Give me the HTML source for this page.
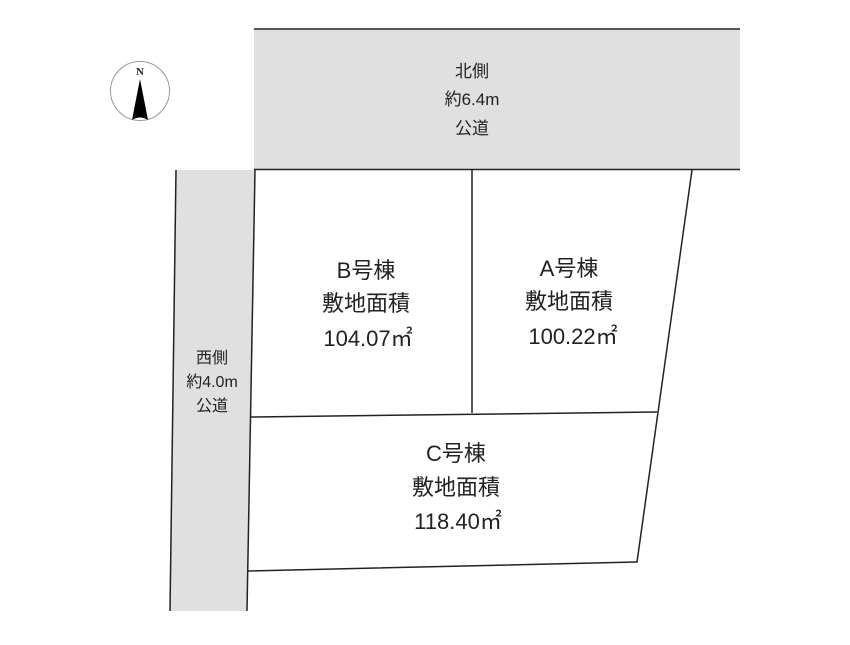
<!DOCTYPE html>
<html><head><meta charset="utf-8"><style>
body{margin:0;background:#fff}
text{font-family:"Liberation Sans","Noto Sans CJK JP",sans-serif;fill:#222}
</style></head><body>
<svg width="850" height="640" viewBox="0 0 850 640" xmlns="http://www.w3.org/2000/svg">
<rect x="254" y="29" width="486" height="141" fill="#e0e0e0"/>
<line x1="254" y1="29" x2="740" y2="29" stroke="#222" stroke-width="1.5"/>
<line x1="254" y1="169.5" x2="740" y2="169.5" stroke="#222" stroke-width="1.5"/>
<polygon points="176,170 255,170 247,611 170,611" fill="#e0e0e0"/>
<line x1="176" y1="170" x2="170" y2="611" stroke="#222" stroke-width="1.5"/>
<line x1="255" y1="170" x2="247" y2="611" stroke="#222" stroke-width="1.5"/>
<polyline points="692,170 637,562 247,571" fill="none" stroke="#222" stroke-width="1.5"/>
<line x1="472" y1="170" x2="472" y2="413" stroke="#222" stroke-width="1.5"/>
<line x1="250" y1="417" x2="657" y2="412" stroke="#222" stroke-width="1.5"/>
<circle cx="140" cy="91" r="29.5" fill="#fff" stroke="#999" stroke-width="1"/>
<text x="140" y="75" font-size="11" font-weight="bold" text-anchor="middle" style="font-family:'Liberation Serif',serif">N</text>
<path d="M140,79 L148,120 Q140,115 132,120 Z" fill="#000"/>
<g font-size="17" text-anchor="middle">
<text x="472" y="77">北側</text><text x="472" y="105">約6.4m</text><text x="472" y="134">公道</text>
</g>
<g font-size="16" text-anchor="middle">
<text x="212" y="363">西側</text><text x="212" y="387">約4.0m</text><text x="212" y="411">公道</text>
</g>
<g font-size="22" text-anchor="middle">
<text x="366" y="278">B号棟</text><text x="366" y="311">敷地面積</text><text x="368" y="346">104.07㎡</text>
<text x="569" y="276">A号棟</text><text x="569" y="309">敷地面積</text><text x="573" y="344">100.22㎡</text>
<text x="456" y="461">C号棟</text><text x="456" y="495">敷地面積</text><text x="458" y="529">118.40㎡</text>
</g>
</svg>
</body></html>
